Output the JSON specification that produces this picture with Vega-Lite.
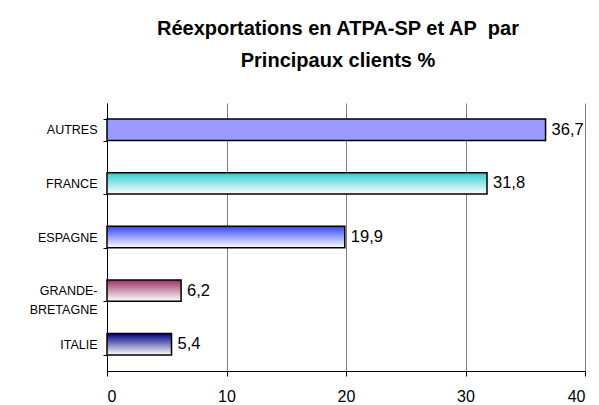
{
  "$schema": "https://vega.github.io/schema/vega-lite/v6.json",
  "width": 478,
  "height": 268,
  "autosize": {"type": "none"},
  "padding": {"left": 107, "top": 103, "right": 14, "bottom": 34},
  "background": "white",
  "title": {
    "text": ["Réexportations en ATPA-SP et AP\u00a0\u00a0par", "Principaux clients %"],
    "anchor": "middle",
    "dx": -8,
    "font": "Liberation Sans",
    "fontSize": 20,
    "fontWeight": "bold",
    "color": "black",
    "lineHeight": 32,
    "offset": 26
  },
  "data": {
    "values": [
      {"client": "AUTRES", "part": 36.7},
      {"client": "FRANCE", "part": 31.8},
      {"client": "ESPAGNE", "part": 19.9},
      {"client": "GRANDE-BRETAGNE", "part": 6.2},
      {"client": "ITALIE", "part": 5.4}
    ]
  },
  "encoding": {
    "y": {
      "field": "client",
      "type": "nominal",
      "sort": null,
      "scale": {"paddingInner": 0.6, "paddingOuter": 0.3},
      "axis": {
        "title": null,
        "tickBand": "extent",
        "tickSize": 4,
        "tickColor": "black",
        "domainColor": "black",
        "labelFont": "Liberation Sans",
        "labelFontSize": 12.5,
        "labelColor": "black",
        "labelPadding": 6,
        "labelLineHeight": 19,
        "labelExpr": "datum.value == 'GRANDE-BRETAGNE' ? ['GRANDE-', 'BRETAGNE'] : datum.value"
      }
    },
    "x": {
      "field": "part",
      "type": "quantitative",
      "scale": {"domain": [0, 40], "nice": false},
      "axis": {
        "title": null,
        "values": [0, 10, 20, 30, 40],
        "grid": true,
        "gridColor": "#808080",
        "gridWidth": 1,
        "domainColor": "black",
        "tickColor": "black",
        "tickSize": 5,
        "labelFont": "Liberation Sans",
        "labelFontSize": 16,
        "labelColor": "black",
        "labelPadding": 12
      }
    }
  },
  "layer": [
    {
      "mark": {"type": "bar", "stroke": "black", "strokeWidth": 1.5},
      "encoding": {
        "fill": {
          "condition": [
            {"test": "datum.client == 'FRANCE'", "value": {"gradient": "linear", "x1": 0, "y1": 0, "x2": 0, "y2": 1, "stops": [{"offset": 0, "color": "#33CCCC"}, {"offset": 1, "color": "#FFFFFF"}]}},
            {"test": "datum.client == 'ESPAGNE'", "value": {"gradient": "linear", "x1": 0, "y1": 0, "x2": 0, "y2": 1, "stops": [{"offset": 0, "color": "#3344FF"}, {"offset": 1, "color": "#FFFFFF"}]}},
            {"test": "datum.client == 'GRANDE-BRETAGNE'", "value": {"gradient": "linear", "x1": 0, "y1": 0, "x2": 0, "y2": 1, "stops": [{"offset": 0, "color": "#993366"}, {"offset": 1, "color": "#FFFFFF"}]}},
            {"test": "datum.client == 'ITALIE'", "value": {"gradient": "linear", "x1": 0, "y1": 0, "x2": 0, "y2": 1, "stops": [{"offset": 0, "color": "#000080"}, {"offset": 1, "color": "#FFFFFF"}]}}
          ],
          "value": "#9999FF"
        }
      }
    },
    {
      "mark": {"type": "text", "align": "left", "baseline": "middle", "dx": 6, "font": "Liberation Sans", "fontSize": 16.5, "color": "black"},
      "encoding": {
        "text": {"field": "part", "type": "quantitative", "format": ".1f"}
      }
    }
  ],
  "config": {
    "view": {"stroke": null},
    "locale": {"number": {"decimal": ",", "thousands": " ", "grouping": [3], "currency": ["", " €"]}}
  }
}
